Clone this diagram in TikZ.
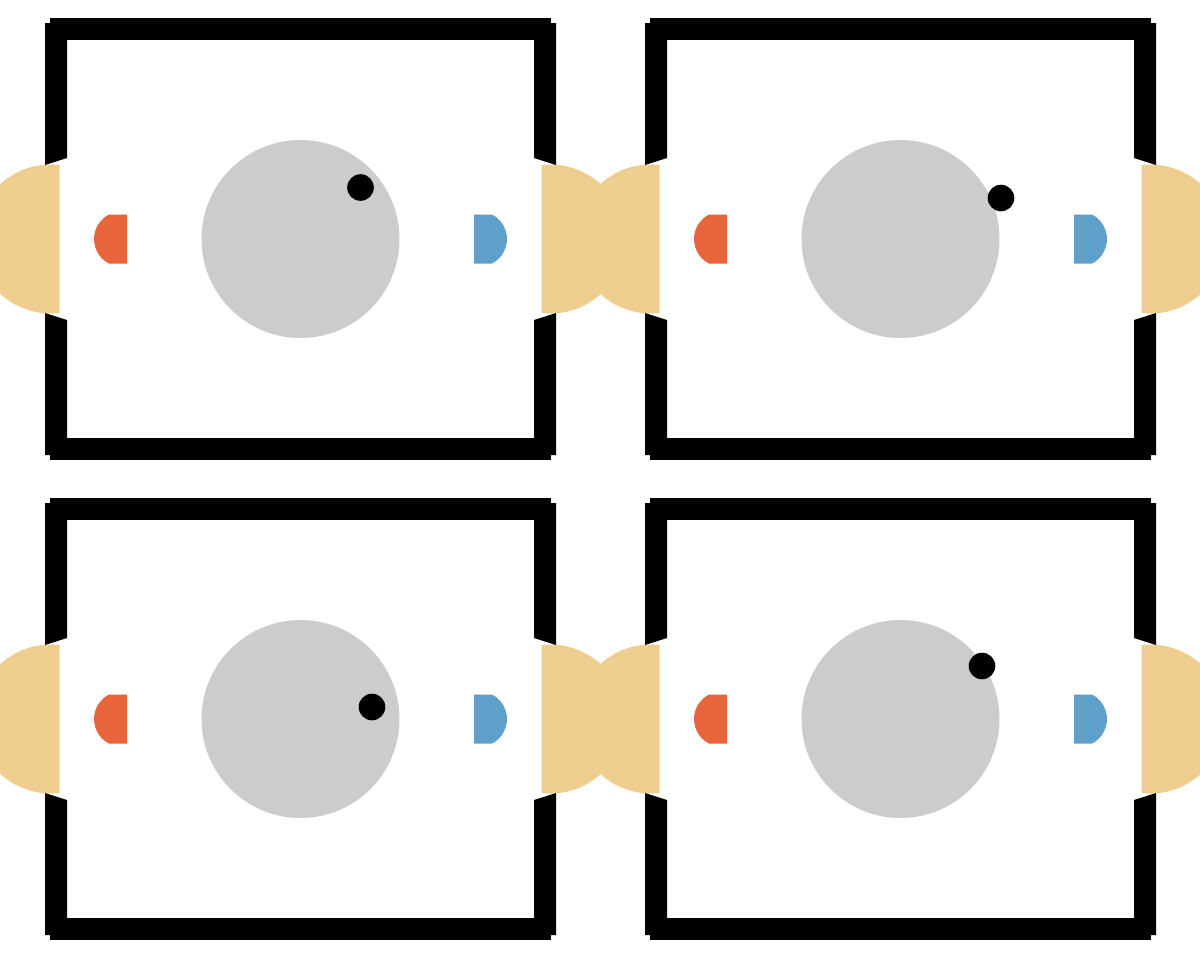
\documentclass[tikz,border=0pt]{standalone}
\usepackage{tikz}

\definecolor{junction}{HTML}{EFCD8F}
\definecolor{pump}{HTML}{E8643A}
\definecolor{channel}{HTML}{5FA0CB}
\definecolor{nucleus}{HTML}{CCCCCC}

\tikzset{
    wall/.style={fill=black},
    gap/.style={fill=junction},
    nucleusdisc/.style={fill=nucleus},
    marker/.style={fill=black},
}

\begin{document}
\begin{tikzpicture}
    \useasboundingbox (0,0) rectangle (12,-9.6);
    \clip (0,0) rectangle (12,-9.6);
    % one cell per entry: centre, position of the dot
    \foreach \cx/\cy/\dx/\dy in {3.005/-2.39/0.60/0.515, 9.005/-2.39/1.005/0.41,
                                  3.005/-7.19/0.715/0.12, 9.005/-7.19/0.815/0.53} {
        \begin{scope}[shift={(\cx,\cy)}]
            % junctions in the side walls
            \fill[gap] (-2.41,0.74) arc[start angle=83.2, end angle=276.8, radius=0.745] -- cycle;
            \fill[gap] (2.41,-0.74) arc[start angle=-96.8, end angle=96.8, radius=0.745] -- cycle;
            % walls
            \fill[wall] (-2.505,1.99) rectangle (2.505,2.21);
            \fill[wall] (-2.505,-1.99) rectangle (2.505,-2.21);
            \fill[wall] (-2.555,2.16) -- (-2.335,2.16) -- (-2.335,0.81) -- (-2.555,0.74) -- cycle;
            \fill[wall] (-2.555,-2.16) -- (-2.335,-2.16) -- (-2.335,-0.81) -- (-2.555,-0.74) -- cycle;
            \fill[wall] (2.555,2.16) -- (2.335,2.16) -- (2.335,0.81) -- (2.555,0.74) -- cycle;
            \fill[wall] (2.555,-2.16) -- (2.335,-2.16) -- (2.335,-0.81) -- (2.555,-0.74) -- cycle;
            % red and blue sides
            \fill[pump] (-1.735,0.245) -- (-1.916,0.245)
                arc[start angle=117.4, end angle=242.6, radius=0.276] -- (-1.735,-0.245) -- cycle;
            \fill[channel] (1.735,0.245) -- (1.916,0.245)
                arc[start angle=62.6, end angle=-62.6, radius=0.276] -- (1.735,-0.245) -- cycle;
            % nucleus with its dot
            \fill[nucleusdisc] (0,0) circle (0.99);
            \fill[marker] (\dx,\dy) circle (0.133);
        \end{scope}
    }
\end{tikzpicture}
\end{document}
